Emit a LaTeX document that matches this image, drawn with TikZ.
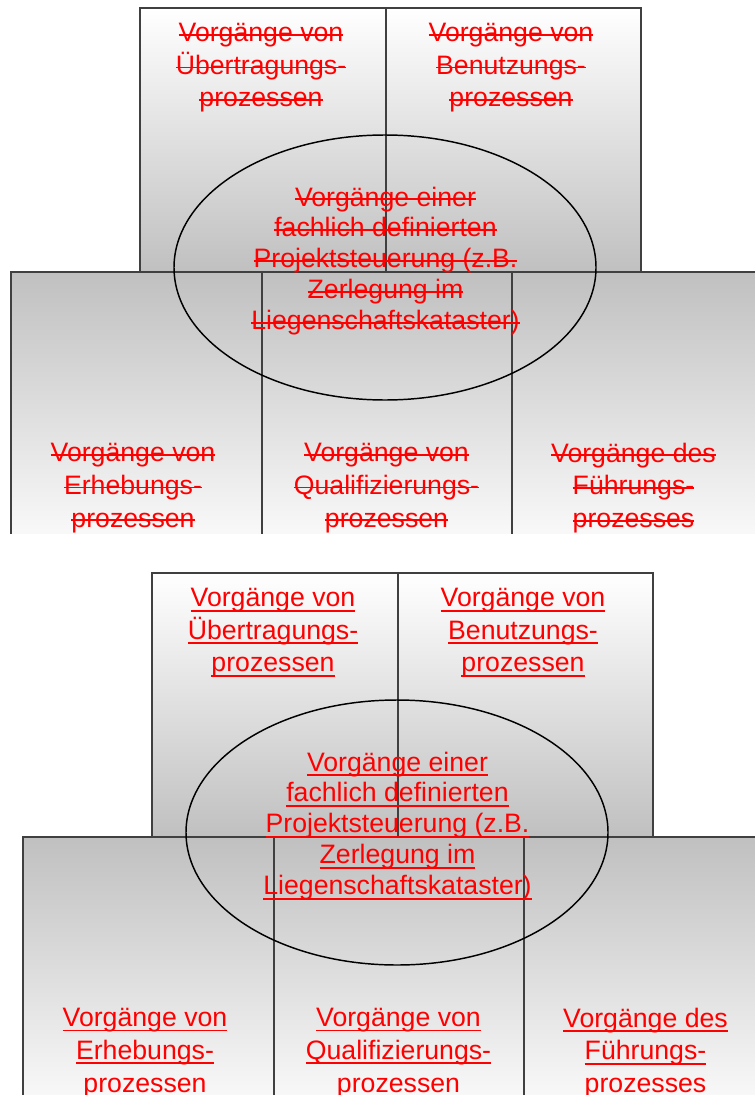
\documentclass[tikz,border=0pt]{standalone}
\usepackage{fontspec}
\setmainfont{Liberation Sans}
\newsavebox\MarkBox
\newcommand\Sline[1]{\sbox\MarkBox{#1}\rlap{\rule[\dimexpr0.26em-0.7pt\relax]{\wd\MarkBox}{1.4pt}}\usebox\MarkBox}
\newcommand\Uline[1]{\sbox\MarkBox{#1}\rlap{\rule[-3.6pt]{\wd\MarkBox}{1.4pt}}\usebox\MarkBox}
\definecolor{boxgray}{HTML}{C0C0C0}
\definecolor{linegray}{HTML}{404040}
\definecolor{txtred}{HTML}{FF0000}
\tikzset{
  frame/.style={draw=linegray, line width=0.8pt},
  upshade/.style={top color=white, bottom color=boxgray},
  downshade/.style={top color=boxgray, bottom color=white!98!black},
  ellline/.style={draw=black, line width=1.1pt},
  lbl/.style={text=txtred, align=center, inner sep=0pt, font=\fontsize{20}{24.4}\selectfont},
  elbl/.style={lbl, font=\fontsize{20}{23.2}\selectfont},
  blbl/.style={lbl, font=\fontsize{20}{24.6}\selectfont},
}
\newcommand\Diag[1]{%
  \path[upshade] (140,8) rectangle (641,272);
  \draw[frame] (140,272) -- (140,8) -- (641,8) -- (641,272);
  \coordinate (ut) at (386,8);
  \coordinate (ub) at (386,272);
  \draw[frame] (ut) -- (ub);
  \path[downshade] (11,272) rectangle (758,540);
  \draw[frame] (11,545) -- (11,272) -- (758,272) -- (758,545);
  \coordinate (d1t) at (262,272);
  \coordinate (d1b) at (262,545);
  \coordinate (d2t) at (512,272);
  \coordinate (d2b) at (512,545);
  \draw[frame] (d1t) -- (d1b);
  \draw[frame] (d2t) -- (d2b);
  \draw[ellline] (385,267.5) ellipse [x radius=211, y radius=132.5];
  \node[lbl] (uebertragung) at (261,68) {#1{Vorgänge von}\\#1{Übertragungs-}\\#1{prozessen}};
  \node[lbl] (benutzung) at (511,68) {#1{Vorgänge von}\\#1{Benutzungs-}\\#1{prozessen}};
  \node[elbl] (projekt) at (385.5,261) {#1{Vorgänge einer}\\#1{fachlich definierten}\\#1{Projektsteuerung (z.B.}\\#1{Zerlegung im}\\#1{Liegenschaftskataster)}};
  \node[blbl] (erhebung) at (133,488) {#1{Vorgänge von}\\#1{Erhebungs-}\\#1{prozessen}};
  \node[blbl] (qualifizierung) at (386.5,488) {#1{Vorgänge von}\\#1{Qualifizierungs-}\\#1{prozessen}};
  \node[blbl] (fuehrung) at (633.5,488) {#1{Vorgänge des}\\#1{Führungs-}\\#1{prozesses}};
}
\begin{document}
\begin{tikzpicture}[x=0.75pt,y=-0.75pt]
  \useasboundingbox (0,0) rectangle (755,1095);
  \begin{scope}[name prefix=a-]
    \clip (0,0) rectangle (755,533);
    \Diag{\Sline}
  \end{scope}
  \begin{scope}[name prefix=b-]
    \clip (0,540) rectangle (755,1095);
    \begin{scope}[shift={(12,565)}]
      \Diag{\Uline}
    \end{scope}
  \end{scope}
\end{tikzpicture}
\end{document}
